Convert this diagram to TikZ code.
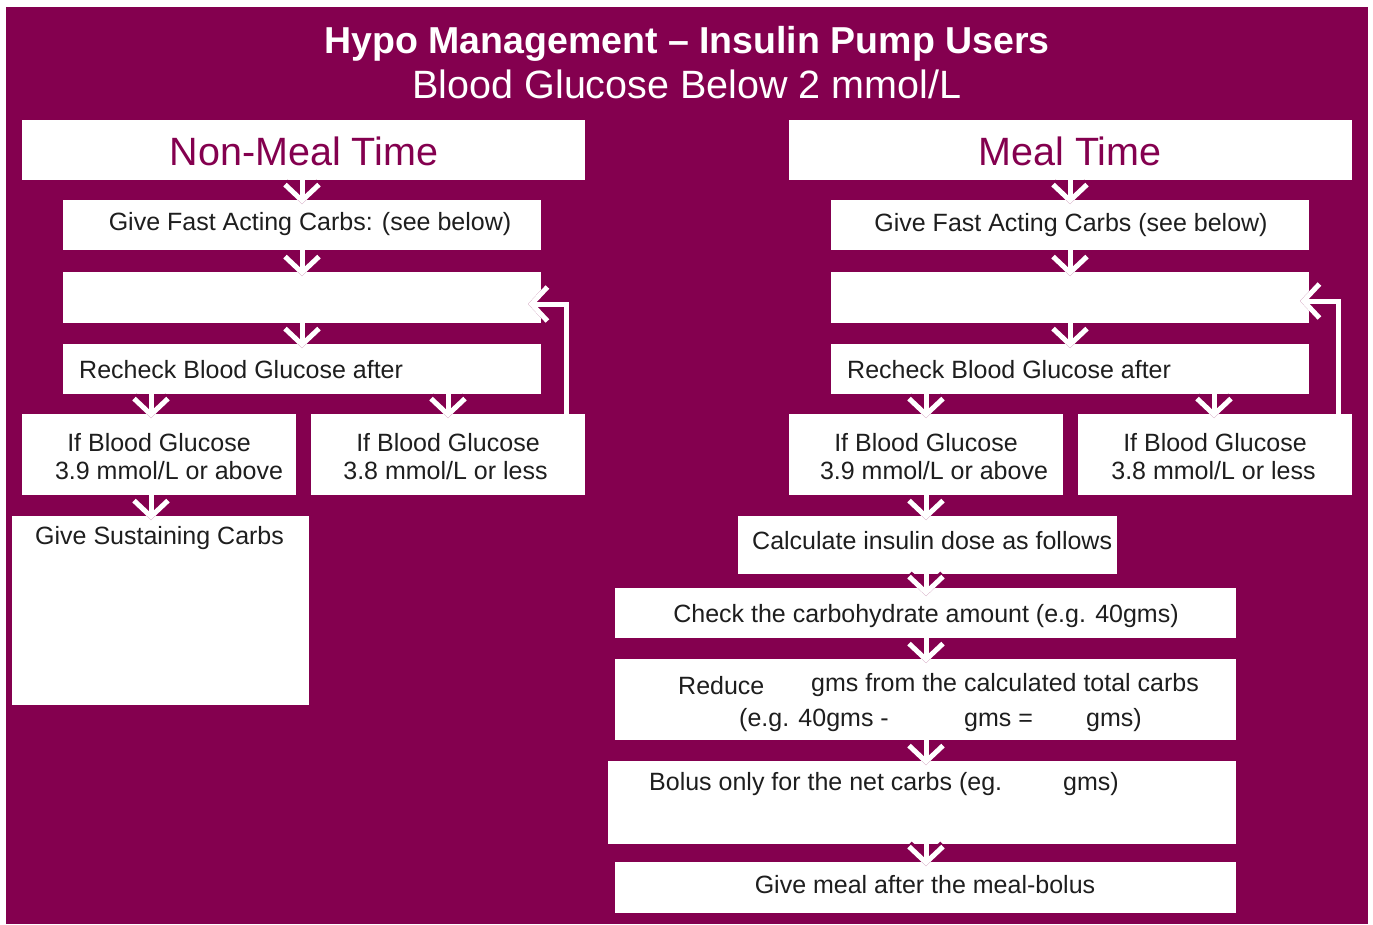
\documentclass[tikz,border=0pt]{standalone}
\usepackage{fontspec}
\setmainfont{Liberation Sans}
\usetikzlibrary{arrows.meta}
\definecolor{hmag}{HTML}{84004F}
\definecolor{ink}{HTML}{1E1E1E}
\tikzset{
  box/.style={fill=white, draw=none, inner sep=0pt, anchor=north west},
  txt/.style={font=\fontsize{25}{30}\selectfont, text=ink, inner sep=0pt},
  hdr/.style={font=\fontsize{39.5}{46}\selectfont, text=hmag, inner sep=0pt, anchor=base},
  flow/.style={draw=white, line width=5pt,
    -{Straight Barb[length=16pt,width=34pt,line join=miter]},
    preaction={draw=hmag, line width=8pt}},
}
\begin{document}
\begin{tikzpicture}[x=1pt,y=-1pt]
\useasboundingbox (0,0) rectangle (1373,924);
\fill[white] (0,0) rectangle (1373,924);
\fill[hmag] (6,7) rectangle (1368,924);

% titles
\node[inner sep=0pt, anchor=base, text=white, font=\fontsize{37.5}{44}\selectfont\bfseries] (title) at (687,53) {Hypo Management – Insulin Pump Users};
\node[inner sep=0pt, anchor=base, text=white, font=\fontsize{39.5}{46}\selectfont] (subtitle) at (687,98) {Blood Glucose Below 2 mmol/L};

% ---------- left column: boxes
\node[box, minimum width=563pt, minimum height=60pt] (nmh) at (22,120) {};
\node[box, minimum width=478pt, minimum height=50pt] (nfast) at (63,200) {};
\node[box, minimum width=478pt, minimum height=51pt] (nempty) at (63,272) {};
\node[box, minimum width=478pt, minimum height=50pt] (nrecheck) at (63,344) {};
\node[box, minimum width=274pt, minimum height=81pt] (nhigh) at (22,414) {};
\node[box, minimum width=274pt, minimum height=81pt] (nlow) at (311,414) {};
\node[box, minimum width=297pt, minimum height=189pt] (nsust) at (12,516) {};

% ---------- right column: boxes
\node[box, minimum width=563pt, minimum height=60pt] (mh) at (789,120) {};
\node[box, minimum width=478pt, minimum height=50pt] (mfast) at (831,200) {};
\node[box, minimum width=478pt, minimum height=51pt] (mempty) at (831,272) {};
\node[box, minimum width=478pt, minimum height=50pt] (mrecheck) at (831,344) {};
\node[box, minimum width=274pt, minimum height=81pt] (mhigh) at (789,414) {};
\node[box, minimum width=274pt, minimum height=81pt] (mlow) at (1078,414) {};
\node[box, minimum width=379pt, minimum height=58pt] (mcalc) at (738,516) {};
\node[box, minimum width=621pt, minimum height=50pt] (mcheck) at (615,588) {};
\node[box, minimum width=621pt, minimum height=81pt] (mreduce) at (615,659) {};
\node[box, minimum width=628pt, minimum height=83pt] (mbolus) at (608,761) {};
\node[box, minimum width=621pt, minimum height=51pt] (mmeal) at (615,862) {};

% ---------- texts left
\node[hdr] (tnmh) at (304,165) {Non-Meal Time};
\node[txt, anchor=base] (tnfast) at (310,230) {Give Fast Acting Carbs: (see below)};
\node[txt, anchor=base west] (tnrecheck) at (79,378) {Recheck Blood Glucose after};
\node[txt, anchor=base] (tnhigha) at (159,451) {If Blood Glucose};
\node[txt, anchor=base] (tnhighb) at (169,479) {3.9 mmol/L or above};
\node[txt, anchor=base] (tnlowa) at (448,451) {If Blood Glucose};
\node[txt, anchor=base] (tnlowb) at (445.5,479) {3.8 mmol/L or less};
\node[txt, anchor=base west] (tnsust) at (35,544) {Give Sustaining Carbs};

% ---------- texts right
\node[hdr] (tmh) at (1070,165) {Meal Time};
\node[txt, anchor=base] (tmfast) at (1071,231) {Give Fast Acting Carbs (see below)};
\node[txt, anchor=base west] (tmrecheck) at (847,378) {Recheck Blood Glucose after};
\node[txt, anchor=base] (tmhigha) at (926,451) {If Blood Glucose};
\node[txt, anchor=base] (tmhighb) at (934,479) {3.9 mmol/L or above};
\node[txt, anchor=base] (tmlowa) at (1215,451) {If Blood Glucose};
\node[txt, anchor=base] (tmlowb) at (1213.5,479) {3.8 mmol/L or less};
\node[txt, anchor=base west] (tmcalc) at (752,549) {Calculate insulin dose as follows};
\node[txt, anchor=base] (tmcheck) at (926,622) {Check the carbohydrate amount (e.g. 40gms)};
\node[txt, anchor=base west] (tmreda) at (678,694) {Reduce};
\node[txt, anchor=base west] (tmredb) at (811,691) {gms from the calculated total carbs};
\node[txt, anchor=base west] (tmredc) at (739,726) {(e.g. 40gms -};
\node[txt, anchor=base west] (tmredd) at (964,726) {gms =};
\node[txt, anchor=base west] (tmrede) at (1086,726) {gms)};
\node[txt, anchor=base west] (tmbola) at (649,790) {Bolus only for the net carbs (eg.};
\node[txt, anchor=base west] (tmbolb) at (1063,790) {gms)};
\node[txt, anchor=base] (tmmeal) at (925,893) {Give meal after the meal-bolus};

% ---------- connector x positions
\coordinate (xl) at (302,0);
\coordinate (xla) at (151,0);
\coordinate (xlb) at (448,0);
\coordinate (xr) at (1070,0);
\coordinate (xra) at (926,0);
\coordinate (xrb) at (1214,0);

% ---------- connectors left
\draw[flow] (nmh.south -| xl) -- ([yshift=-4pt]nfast.north -| xl);
\draw[flow] (nfast.south -| xl) -- ([yshift=-4pt]nempty.north -| xl);
\draw[flow] (nempty.south -| xl) -- ([yshift=-4pt]nrecheck.north -| xl);
\draw[flow] (nrecheck.south -| xla) -- ([yshift=-4pt]nhigh.north -| xla);
\draw[flow] (nrecheck.south -| xlb) -- ([yshift=-4pt]nlow.north -| xlb);
\draw[flow] (nhigh.south -| xla) -- ([yshift=-4pt]nsust.north -| xla);

% ---------- connectors right
\draw[flow] (mh.south -| xr) -- ([yshift=-4pt]mfast.north -| xr);
\draw[flow] (mfast.south -| xr) -- ([yshift=-4pt]mempty.north -| xr);
\draw[flow] (mempty.south -| xr) -- ([yshift=-4pt]mrecheck.north -| xr);
\draw[flow] (mrecheck.south -| xra) -- ([yshift=-4pt]mhigh.north -| xra);
\draw[flow] (mrecheck.south -| xrb) -- ([yshift=-4pt]mlow.north -| xrb);
\draw[flow] (mhigh.south -| xra) -- ([yshift=-4pt]mcalc.north -| xra);
\draw[flow] (mcalc.south -| xra) -- ([yshift=-8pt]mcheck.north -| xra);
\draw[flow] (mcheck.south -| xra) -- ([yshift=-4pt]mreduce.north -| xra);
\draw[flow] (mreduce.south -| xra) -- ([yshift=-4pt]mbolus.north -| xra);
\draw[flow] (mbolus.south -| xra) -- ([yshift=-4pt]mmeal.north -| xra);

% ---------- loop-back connectors
\coordinate (lcorner) at (566,304);
\coordinate (ltip) at (528,304);
\draw[flow] (nlow.north -| lcorner) -- (lcorner) -- (ltip);
\coordinate (rcorner) at (1338,301);
\coordinate (rtip) at (1300,301);
\draw[flow] (mlow.north -| rcorner) -- (rcorner) -- (rtip);
\end{tikzpicture}
\end{document}
